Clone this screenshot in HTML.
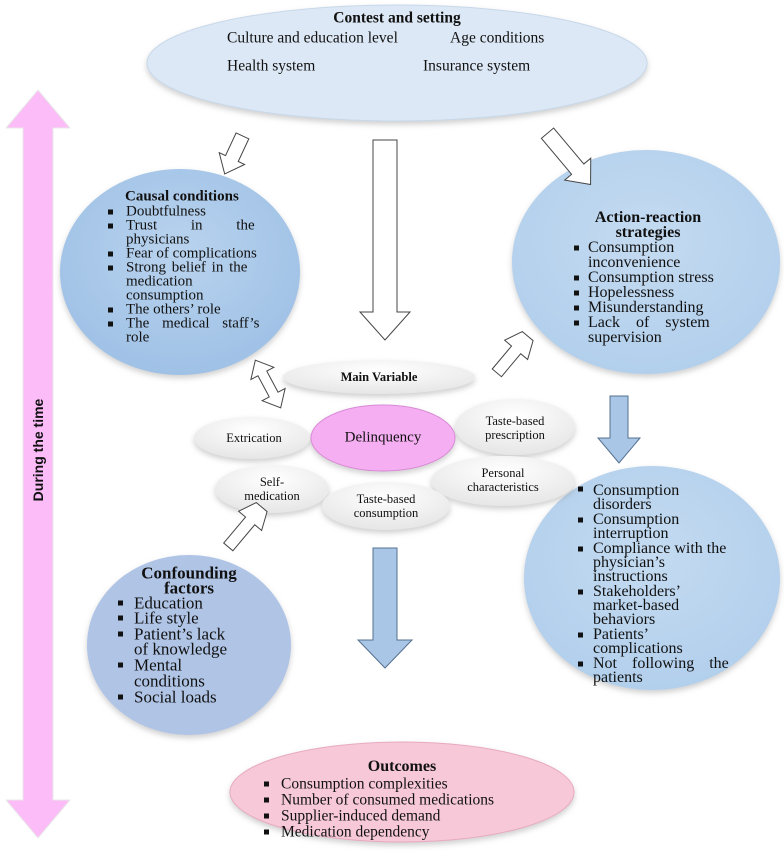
<!DOCTYPE html>
<html><head><meta charset="utf-8"><style>
body{margin:0;width:784px;height:858px;background:#fff;position:relative;overflow:hidden;font-family:"Liberation Serif",serif;color:#111}
.t{position:absolute;white-space:nowrap;line-height:1;transform:translateY(-50%);font-family:"Liberation Serif",serif}
.b{font-weight:bold}
.s14{font-size:15px}.s15{font-size:15.5px}.s16{font-size:16px}.s17{font-size:17px}
.sq{position:absolute;width:5px;height:5px;background:#111;transform:translateY(-50%)}
</style></head><body>
<svg width="784" height="858" style="position:absolute;left:0;top:0">
<defs>
<radialGradient id="gb" cx="50%" cy="40%" r="60%"><stop offset="0" stop-color="#b9d3ee"/><stop offset="1" stop-color="#9fc1e6"/></radialGradient>
<radialGradient id="gb2" cx="50%" cy="40%" r="60%"><stop offset="0" stop-color="#c4dbf1"/><stop offset="1" stop-color="#b2cfec"/></radialGradient>
<radialGradient id="gw" cx="50%" cy="30%" r="70%"><stop offset="0" stop-color="#ffffff"/><stop offset="1" stop-color="#e6e6e6"/></radialGradient>
<filter id="sh" x="-20%" y="-20%" width="140%" height="140%"><feDropShadow dx="0" dy="3" stdDeviation="3" flood-color="#888" flood-opacity="0.4"/></filter>
</defs>
<polygon points="38,90 70,128 53,128 53,800 70,800 38,838 6,800 23,800 23,128 6,128" fill="#fbbcf8" stroke="#e9e9e9" stroke-width="1"/>
<ellipse cx="397" cy="63" rx="250" ry="58" fill="#dce8f5" stroke="#c8d8ea" filter="url(#sh)"/>
<ellipse cx="180" cy="272" rx="120" ry="103" fill="url(#gb)" filter="url(#sh)"/>
<ellipse cx="646" cy="262" rx="134" ry="112" fill="url(#gb2)" filter="url(#sh)"/>
<ellipse cx="652" cy="578" rx="128" ry="112" fill="url(#gb2)" filter="url(#sh)"/>
<ellipse cx="189" cy="645" rx="102" ry="90" fill="#b0c4e6" filter="url(#sh)"/>
<ellipse cx="402" cy="792" rx="172" ry="50" fill="#f6c8d8" stroke="#e8aac2" filter="url(#sh)"/>
<g filter="url(#sh)">
<ellipse cx="379" cy="377" rx="96" ry="17" fill="url(#gw)"/>
<ellipse cx="252" cy="438" rx="58" ry="21" fill="url(#gw)"/>
<ellipse cx="515" cy="427" rx="60" ry="28" fill="url(#gw)"/>
<ellipse cx="503" cy="481" rx="72" ry="25" fill="url(#gw)"/>
<ellipse cx="272" cy="489" rx="57" ry="24" fill="url(#gw)"/>
<ellipse cx="386" cy="506" rx="64" ry="24" fill="url(#gw)"/>
<ellipse cx="383" cy="438" rx="72" ry="33" fill="#f5aef2" stroke="#d98ad6"/>
</g>
<g fill="#fff" stroke="#444" stroke-width="1">
<polygon points="373,140 397,140 397,312 410,312 385,340 360,312 373,312"/>
<g transform="translate(234,154) rotate(25)"><polygon points="-7,-20 7,-20 7,5 14,5 0,22 -14,5 -7,5"/></g>
<g transform="translate(570,160) rotate(-40)"><polygon points="-8,-35 8,-35 8,12 17,12 0,32 -17,12 -8,12"/></g>
<g transform="translate(511,356) rotate(40)"><polygon points="-7,-26 -15,-8 -6,-8 -6,22 6,22 6,-8 15,-8 7,-26 0,-26"/></g>
<g transform="translate(268,384) rotate(-28)"><polygon points="0,-27 13,-12 5,-12 5,12 13,12 0,27 -13,12 -5,12 -5,-12 -13,-12"/></g>
<g transform="translate(245,527) rotate(40)"><polygon points="-7,-26 -15,-8 -6,-8 -6,26 6,26 6,-8 15,-8 7,-26 0,-26"/></g>
</g>
<g fill="#a9c6e6" stroke="#55708f" stroke-width="1">
<polygon points="610,396 628,396 628,438 640,438 619,463 598,438 610,438"/>
<polygon points="373,548 397,548 397,640 412,640 385,668 358,640 373,640"/>
</g>
</svg>

<div class="t" style="left:38px;top:450px;transform:translate(-50%,-50%) rotate(-90deg);font-family:'Liberation Sans',sans-serif;font-weight:bold;font-size:14px">During the time</div>

<div class="t b s15" style="left:397px;top:18px;transform:translate(-50%,-50%)">Contest and setting</div>
<div class="t s15" style="left:227px;top:38px">Culture and education level</div>
<div class="t s15" style="left:450px;top:38px">Age conditions</div>
<div class="t s15" style="left:227px;top:66px">Health system</div>
<div class="t s15" style="left:423px;top:66px">Insurance system</div>

<div class="t b s14" style="left:125px;top:197px">Causal conditions</div>
<div class="sq" style="left:108px;top:212px"></div><div class="t s14" style="left:126px;top:212px">Doubtfulness</div>
<div class="sq" style="left:108px;top:226px"></div><div class="t s14" style="left:126px;top:226px;word-spacing:30px">Trust in the</div>
<div class="t s14" style="left:126px;top:240px">physicians</div>
<div class="sq" style="left:108px;top:254px"></div><div class="t s14" style="left:126px;top:254px">Fear of complications</div>
<div class="sq" style="left:108px;top:268px"></div><div class="t s14" style="left:126px;top:268px;word-spacing:2px">Strong belief in the</div>
<div class="t s14" style="left:126px;top:282px">medication</div>
<div class="t s14" style="left:126px;top:296px">consumption</div>
<div class="sq" style="left:108px;top:310px"></div><div class="t s14" style="left:126px;top:310px">The others’ role</div>
<div class="sq" style="left:108px;top:324px"></div><div class="t s14" style="left:126px;top:324px;word-spacing:9px">The medical staff’s</div>
<div class="t s14" style="left:126px;top:338px">role</div>

<div class="t b s16" style="left:648px;top:218px;transform:translate(-50%,-50%)">Action-reaction</div>
<div class="t b s16" style="left:648px;top:233px;transform:translate(-50%,-50%)">strategies</div>
<div class="sq" style="left:574px;top:248px"></div><div class="t s16" style="left:588px;top:248px">Consumption</div>
<div class="t s16" style="left:588px;top:263px">inconvenience</div>
<div class="sq" style="left:574px;top:278px"></div><div class="t s16" style="left:588px;top:278px">Consumption stress</div>
<div class="sq" style="left:574px;top:293px"></div><div class="t s16" style="left:588px;top:293px">Hopelessness</div>
<div class="sq" style="left:574px;top:308px"></div><div class="t s16" style="left:588px;top:308px">Misunderstanding</div>
<div class="sq" style="left:574px;top:323px"></div><div class="t s16" style="left:588px;top:323px;word-spacing:12px">Lack of system</div>
<div class="t s16" style="left:588px;top:338px">supervision</div>

<div class="sq" style="left:578px;top:489px"></div><div class="t s16" style="left:593px;top:491px">Consumption</div>
<div class="t s16" style="left:593px;top:505px">disorders</div>
<div class="sq" style="left:578px;top:520px"></div><div class="t s16" style="left:593px;top:520px">Consumption</div>
<div class="t s16" style="left:593px;top:534px">interruption</div>
<div class="sq" style="left:578px;top:549px"></div><div class="t s16" style="left:593px;top:549px">Compliance with the</div>
<div class="t s16" style="left:593px;top:563px">physician’s</div>
<div class="t s16" style="left:593px;top:577px">instructions</div>
<div class="sq" style="left:578px;top:592px"></div><div class="t s16" style="left:593px;top:592px">Stakeholders’</div>
<div class="t s16" style="left:593px;top:606px">market-based</div>
<div class="t s16" style="left:593px;top:620px">behaviors</div>
<div class="sq" style="left:578px;top:635px"></div><div class="t s16" style="left:593px;top:635px">Patients’</div>
<div class="t s16" style="left:593px;top:649px">complications</div>
<div class="sq" style="left:578px;top:664px"></div><div class="t s16" style="left:593px;top:664px;word-spacing:11px">Not following the</div>
<div class="t s16" style="left:593px;top:678px">patients</div>

<div class="t b s17" style="left:189px;top:573px;transform:translate(-50%,-50%)">Confounding</div>
<div class="t b s17" style="left:189px;top:588px;transform:translate(-50%,-50%)">factors</div>
<div class="sq" style="left:118px;top:603px"></div><div class="t s17" style="left:134px;top:603px">Education</div>
<div class="sq" style="left:118px;top:618px"></div><div class="t s17" style="left:134px;top:618px">Life style</div>
<div class="sq" style="left:118px;top:634px"></div><div class="t s17" style="left:134px;top:634px">Patient’s lack</div>
<div class="t s17" style="left:134px;top:649px">of knowledge</div>
<div class="sq" style="left:118px;top:665px"></div><div class="t s17" style="left:134px;top:665px">Mental</div>
<div class="t s17" style="left:134px;top:681px">conditions</div>
<div class="sq" style="left:118px;top:697px"></div><div class="t s17" style="left:134px;top:697px">Social loads</div>

<div class="t b s16" style="left:402px;top:767px;transform:translate(-50%,-50%)">Outcomes</div>
<div class="sq" style="left:264px;top:784px"></div><div class="t s15" style="left:281px;top:784px">Consumption complexities</div>
<div class="sq" style="left:264px;top:800px"></div><div class="t s15" style="left:281px;top:800px">Number of consumed medications</div>
<div class="sq" style="left:264px;top:816px"></div><div class="t s15" style="left:281px;top:816px">Supplier-induced demand</div>
<div class="sq" style="left:264px;top:832px"></div><div class="t s15" style="left:281px;top:832px">Medication dependency</div>

<div class="t b" style="left:379px;top:377px;transform:translate(-50%,-50%);font-size:12.5px">Main Variable</div>
<div class="t" style="left:383px;top:438px;transform:translate(-50%,-50%);font-size:15px">Delinquency</div>
<div class="t" style="left:254px;top:438px;transform:translate(-50%,-50%);font-size:12.5px">Extrication</div>
<div class="t" style="left:515px;top:414px;transform:translateX(-50%);font-size:12.5px;text-align:center;line-height:14px">Taste-based<br>prescription</div>
<div class="t" style="left:503px;top:466px;transform:translateX(-50%);font-size:12.5px;text-align:center;line-height:14px">Personal<br>characteristics</div>
<div class="t" style="left:272px;top:475px;transform:translateX(-50%);font-size:12.5px;text-align:center;line-height:14px">Self-<br>medication</div>
<div class="t" style="left:386px;top:492px;transform:translateX(-50%);font-size:12.5px;text-align:center;line-height:14px">Taste-based<br>consumption</div>
</body></html>
